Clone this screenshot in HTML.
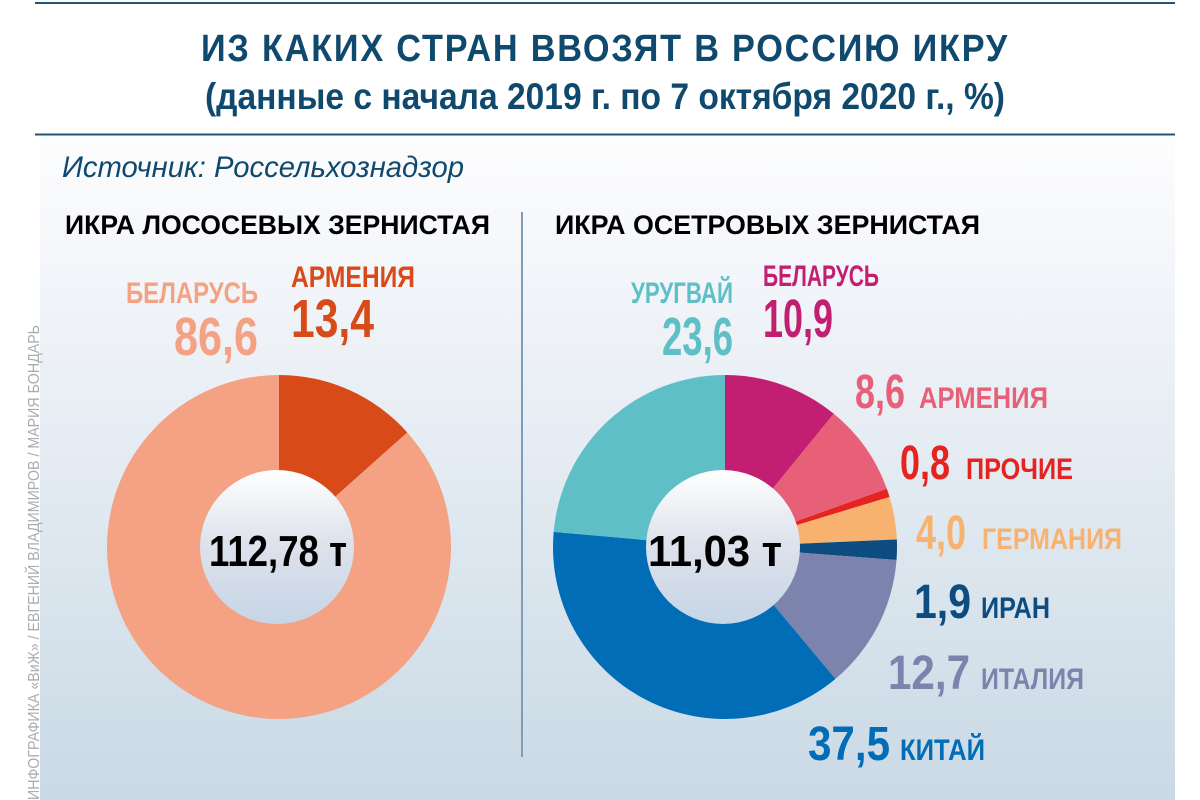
<!DOCTYPE html>
<html><head><meta charset="utf-8"><style>
html,body{margin:0;padding:0;width:1200px;height:800px;overflow:hidden;background:#fff}
svg{display:block}
text{font-family:"Liberation Sans","Noto Sans CJK SC",sans-serif;font-weight:bold}
</style></head><body>
<svg id="s" width="1200" height="800" viewBox="0 0 1200 800" xmlns="http://www.w3.org/2000/svg">
<defs>
<linearGradient id="bg" x1="0" y1="0" x2="0" y2="1">
<stop offset="0" stop-color="#fdfdfe"/><stop offset="0.3" stop-color="#eef2f7"/><stop offset="1" stop-color="#c9d9e5"/></linearGradient>
<linearGradient id="hole" x1="0" y1="0" x2="0" y2="1">
<stop offset="0" stop-color="#ffffff"/><stop offset="0.45" stop-color="#dfe3ec"/><stop offset="1" stop-color="#c6d5e6"/></linearGradient>
</defs>
<rect x="40" y="136" width="1135" height="664" fill="url(#bg)"/>
<line x1="35" y1="3" x2="1175" y2="3" stroke="#1f5478" stroke-width="2"/>
<line x1="35" y1="134.5" x2="1175" y2="134.5" stroke="#1f5478" stroke-width="2"/>
<g lengthAdjust="spacingAndGlyphs">
<text x="605" y="61" text-anchor="middle" font-size="38" fill="#0f4a6e" letter-spacing="2" textLength="808" lengthAdjust="spacingAndGlyphs">ИЗ КАКИХ СТРАН ВВОЗЯТ В РОССИЮ ИКРУ</text>
<text x="605" y="109" text-anchor="middle" font-size="37" fill="#0f4a6e" textLength="800" lengthAdjust="spacingAndGlyphs">(данные с начала 2019 г. по 7 октября 2020 г., %)</text>
<text x="62" y="177" font-size="30" fill="#0f4a6e" font-style="italic" style="font-weight:normal" textLength="402" lengthAdjust="spacingAndGlyphs">Источник: Россельхознадзор</text>
<text x="65" y="234" font-size="27" fill="#000" textLength="425" lengthAdjust="spacingAndGlyphs">ИКРА ЛОСОСЕВЫХ ЗЕРНИСТАЯ</text>
<text x="555" y="234" font-size="27" fill="#000" textLength="425" lengthAdjust="spacingAndGlyphs">ИКРА ОСЕТРОВЫХ ЗЕРНИСТАЯ</text>
</g>
<line x1="522" y1="212" x2="522" y2="757" stroke="#7e9db8" stroke-width="2"/>
<text transform="translate(39,800) rotate(-90)" font-size="16" fill="#a9adb2" style="font-weight:normal" textLength="475" lengthAdjust="spacingAndGlyphs">ИНФОГРАФИКА «ВиЖ» / ЕВГЕНИЙ ВЛАДИМИРОВ / МАРИЯ БОНДАРЬ</text>
<g id="pies"></g>
<circle cx="277" cy="547" r="77" fill="url(#hole)"/>
<circle cx="723" cy="547" r="77" fill="url(#hole)"/>
<text x="278" y="566" text-anchor="middle" font-size="44" fill="#000" textLength="138" lengthAdjust="spacingAndGlyphs">112,78 т</text>
<text x="715" y="566" text-anchor="middle" font-size="44" fill="#000" textLength="134" lengthAdjust="spacingAndGlyphs">11,03 т</text>
<!-- left labels -->
<text x="258" y="303" text-anchor="end" font-size="30" fill="#f4a283" textLength="132" lengthAdjust="spacingAndGlyphs">БЕЛАРУСЬ</text>
<text x="258" y="355" text-anchor="end" font-size="54" fill="#f4a283" textLength="84" lengthAdjust="spacingAndGlyphs">86,6</text>
<text x="291" y="287" font-size="30" fill="#d94a19" textLength="124" lengthAdjust="spacingAndGlyphs">АРМЕНИЯ</text>
<text x="291" y="337" font-size="54" fill="#d94a19" textLength="83" lengthAdjust="spacingAndGlyphs">13,4</text>
<!-- right labels -->
<text x="733" y="303" text-anchor="end" font-size="30" fill="#5fbfc6" textLength="102" lengthAdjust="spacingAndGlyphs">УРУГВАЙ</text>
<text x="733" y="355" text-anchor="end" font-size="54" fill="#5fbfc6" textLength="71" lengthAdjust="spacingAndGlyphs">23,6</text>
<text x="763" y="286" font-size="30" fill="#c21f72" textLength="116" lengthAdjust="spacingAndGlyphs">БЕЛАРУСЬ</text>
<text x="763" y="337" font-size="54" fill="#c21f72" textLength="70" lengthAdjust="spacingAndGlyphs">10,9</text>
<text x="855" y="408" font-size="48" fill="#e85f78" textLength="50" lengthAdjust="spacingAndGlyphs">8,6</text>
<text x="919" y="408" font-size="30" fill="#e85f78" textLength="129" lengthAdjust="spacingAndGlyphs">АРМЕНИЯ</text>
<text x="900" y="479" font-size="48" fill="#e52421" textLength="50" lengthAdjust="spacingAndGlyphs">0,8</text>
<text x="966" y="479" font-size="30" fill="#e52421" textLength="107" lengthAdjust="spacingAndGlyphs">ПРОЧИЕ</text>
<text x="916" y="549" font-size="48" fill="#f7b26f" textLength="50" lengthAdjust="spacingAndGlyphs">4,0</text>
<text x="982" y="549" font-size="30" fill="#f7b26f" textLength="140" lengthAdjust="spacingAndGlyphs">ГЕРМАНИЯ</text>
<text x="914" y="618" font-size="48" fill="#0d4c80" textLength="57" lengthAdjust="spacingAndGlyphs">1,9</text>
<text x="981" y="618" font-size="30" fill="#0d4c80" textLength="69" lengthAdjust="spacingAndGlyphs">ИРАН</text>
<text x="888" y="689" font-size="48" fill="#7c83ad" textLength="82" lengthAdjust="spacingAndGlyphs">12,7</text>
<text x="981" y="689" font-size="30" fill="#7c83ad" textLength="103" lengthAdjust="spacingAndGlyphs">ИТАЛИЯ</text>
<text x="808" y="760" font-size="48" fill="#006db6" textLength="82" lengthAdjust="spacingAndGlyphs">37,5</text>
<text x="900" y="760" font-size="30" fill="#006db6" textLength="85" lengthAdjust="spacingAndGlyphs">КИТАЙ</text>
</svg>
<script>
function pie(cx,cy,r,data){
  var g=document.getElementById('pies'),a=0,ns='http://www.w3.org/2000/svg';
  data.forEach(function(d){
    var a0=a/100*2*Math.PI,a1=(a+d[0])/100*2*Math.PI;a+=d[0];
    var x0=cx+r*Math.sin(a0),y0=cy-r*Math.cos(a0),x1=cx+r*Math.sin(a1),y1=cy-r*Math.cos(a1);
    var p=document.createElementNS(ns,'path');
    p.setAttribute('d','M'+cx+','+cy+'L'+x0+','+y0+'A'+r+','+r+' 0 '+(d[0]>50?1:0)+' 1 '+x1+','+y1+'Z');
    p.setAttribute('fill',d[1]);g.appendChild(p);
  });
}
pie(279,547,172,[[13.4,'#d94a19'],[86.6,'#f4a283']]);
pie(725,547,172,[[10.9,'#c21f72'],[8.6,'#e85f78'],[0.8,'#e52421'],[4.0,'#f7b26f'],[1.9,'#0d4c80'],[12.7,'#7c83ad'],[37.5,'#006db6'],[23.6,'#5fbfc6']]);
</script>
</body></html>
